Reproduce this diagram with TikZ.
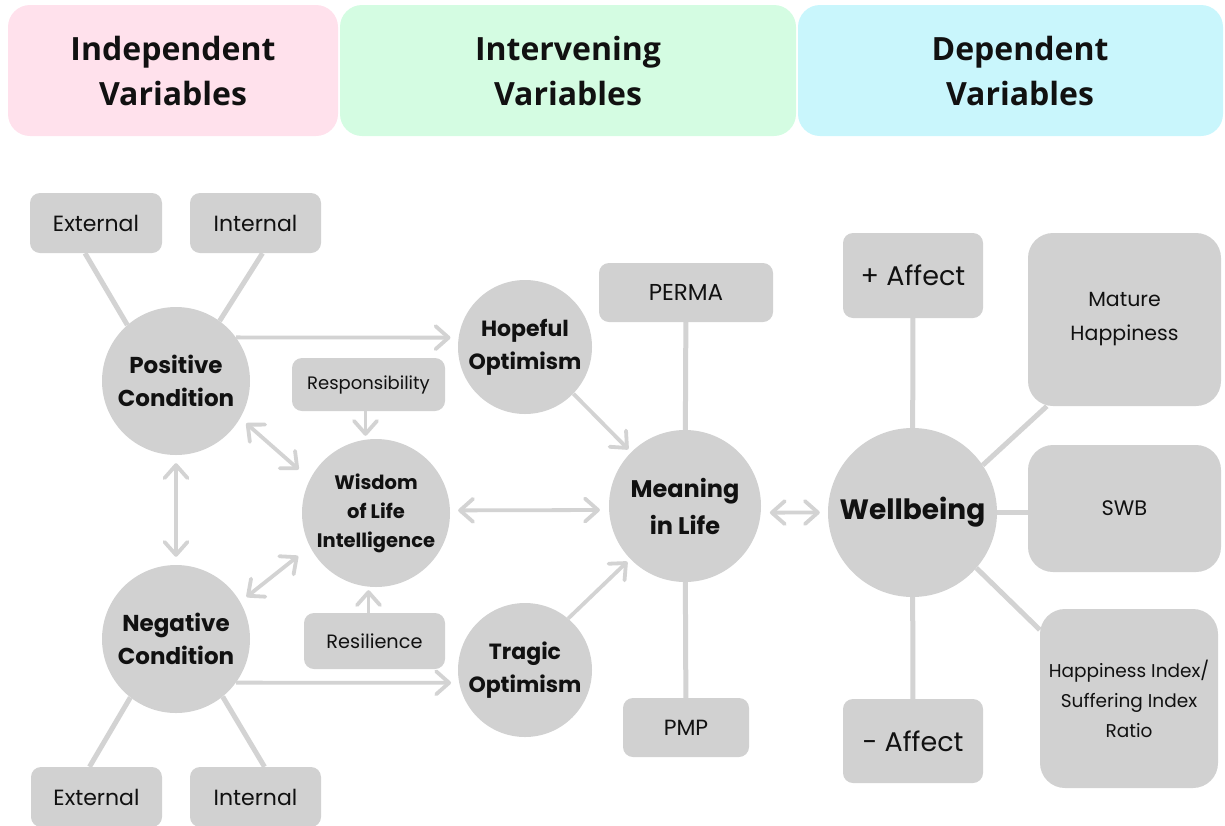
\documentclass[tikz,border=0pt]{standalone}
\usepackage{fontspec}
\newfontfamily\popfont{Poppins}
\newfontfamily\osfont{Open Sans}
\usetikzlibrary{arrows.meta,backgrounds}
\definecolor{nodegray}{HTML}{D1D1D1}
\definecolor{linegray}{HTML}{D3D3D3}
\definecolor{hpink}{HTML}{FFE1EC}
\definecolor{hgreen}{HTML}{D4FCE2}
\definecolor{hcyan}{HTML}{C9F6FC}
\definecolor{txt}{HTML}{111111}
\newcommand{\fs}[2]{\fontsize{#1}{#2}\selectfont}
\begin{document}
\begin{tikzpicture}[x=1pt,y=-1pt,
 hdr/.style={rounded corners=22pt, inner sep=0, minimum height=131pt, text=txt, font=\osfont\bfseries\fs{32}{45}, align=center},
 hdrtext/.style={inner sep=0, text=txt, font=\osfont\bfseries\fs{32}{45}, align=center},
 circ/.style={circle, fill=nodegray, inner sep=0, text=txt, align=center, font=\popfont\bfseries\fs{23}{33}},
 box/.style={rectangle, rounded corners=10pt, fill=nodegray, inner sep=0, text=txt, align=center, font=\popfont\fs{22}{30}},
 ln/.style={draw=linegray, line width=5pt},
 tipb/.tip={Straight Barb[length=13pt,width=23pt,round]},
 arr/.style={draw=linegray, line width=3.8pt, -tipb},
 darr/.style={draw=linegray, line width=3.8pt, tipb-tipb}
]
\useasboundingbox (0,0) rectangle (1225,825);

% headers
\node[hdr, fill=hpink, minimum width=330pt] (H1) at (173,70.5) {Independent\\Variables};
\node[hdr, fill=hgreen, minimum width=456pt] (H2) at (568,70.5) {Intervening\\Variables};
\node[hdr, fill=hcyan, minimum width=425pt] (H3) at (1010.5,70.5) {};
\node[hdrtext] (H3t) at (1020,70.5) {Dependent\\Variables};

% left boxes
\node[box, minimum width=132pt, minimum height=60pt] (ExtT) at (96,223) {External};
\node[box, minimum width=131pt, minimum height=60pt] (IntT) at (255.5,223) {Internal};
\node[box, minimum width=131pt, minimum height=60pt] (ExtB) at (96.5,797) {External};
\node[box, minimum width=131pt, minimum height=60pt] (IntB) at (255.5,797) {Internal};

% circles
\node[circ, minimum size=148pt] (PC) at (176,381) {Positive\\Condition};
\node[circ, minimum size=148pt] (NC) at (176,639) {Negative\\Condition};
\node[circ, minimum size=148pt, font=\popfont\bfseries\fs{19.5}{29}] (WL) at (376,513) {Wisdom\\of Life\\Intelligence};
\node[circ, minimum size=134pt, font=\popfont\bfseries\fs{22}{33}] (HO) at (525,347) {Hopeful\\Optimism};
\node[circ, minimum size=134pt, font=\popfont\bfseries\fs{22}{33}] (TO) at (525,670) {Tragic\\Optimism};
\node[circ, minimum size=152pt, font=\popfont\bfseries\fs{24}{37}] (ML) at (685,506) {Meaning\\in Life};
\node[circ, minimum size=169pt, font=\popfont\bfseries\fs{28}{34}] (WB) at (912.5,512.5) {Wellbeing};

% middle boxes
\node[box, minimum width=153pt, minimum height=53pt, font=\popfont\fs{18}{24}] (Resp) at (368.5,384.5) {Responsibility};
\node[box, minimum width=141pt, minimum height=56pt, font=\popfont\fs{19.3}{24}] (Res) at (374.5,641) {Resilience};
\node[box, minimum width=174pt, minimum height=59pt, font=\popfont\fs{23}{28}] (PERMA) at (686,292.5) {PERMA};
\node[box, minimum width=126pt, minimum height=59pt, font=\popfont\fs{22}{28}] (PMP) at (686,727.5) {PMP};

% right boxes
\node[box, minimum width=140pt, minimum height=85pt, font=\popfont\fs{27}{32}] (PA) at (913,275.5) {+ Affect};
\node[box, minimum width=140pt, minimum height=84pt, font=\popfont\fs{27}{32}] (MA) at (913,741) {- Affect};
\node[box, rounded corners=25pt, minimum width=193pt, minimum height=173pt, font=\popfont\fs{20.5}{34}] (Mat) at (1124.5,319.5) {Mature\\Happiness};
\node[box, rounded corners=25pt, minimum width=193pt, minimum height=127pt, font=\popfont\fs{21}{28}] (SWB) at (1124.5,508.5) {SWB};
\node[box, rounded corners=25pt, minimum width=178pt, minimum height=179pt, font=\popfont\fs{18.5}{30}] (HI) at (1129,698.5) {Happiness Index/\\Suffering Index\\Ratio};

\coordinate (RespOut) at ([xshift=-3pt]Resp.south);
\coordinate (ResIn) at ([xshift=-6pt]Res.north);

% plain connectors behind nodes
\begin{scope}[on background layer]
\draw[ln] ([xshift=-11pt]ExtT.south) -- (PC.131);
\draw[ln] ([xshift=7pt]IntT.south) -- (PC.54);
\draw[ln] ([xshift=-7pt]ExtB.north) -- (NC.232);
\draw[ln] ([xshift=9pt]IntB.north) -- (NC.309);
\draw[ln] (PERMA) -- (ML);
\draw[ln] (ML) -- (PMP);
\draw[ln] (PA) -- (WB);
\draw[ln] (WB) -- (MA);
\draw[ln] (WB.34) -- ([xshift=19pt]Mat.south west);
\draw[ln] (WB.east) -- (WB.east -| SWB.west);
\draw[ln] (WB.-41) -- ([yshift=-21pt]HI.north west);
\end{scope}

% arrows
\draw[arr, shorten >=8pt] (PC.36) -- (HO.172);
\draw[arr, shorten >=8pt] (NC.-36) -- (TO.191);
\draw[darr, shorten <=8pt, shorten >=8pt] (PC) -- (NC);
\draw[darr, shorten <=8pt, shorten >=15pt] (PC.-30) -- (WL.153);
\draw[darr, shorten <=8pt, shorten >=15pt] (NC.30) -- (WL.207);
\draw[arr, shorten >=3pt] (RespOut) -- (RespOut |- WL.north);
\draw[arr, shorten >=3pt] (ResIn) -- (ResIn |- WL.south);
\draw[darr, shorten <=8pt, shorten >=9pt] (WL.2) -- (ML.183);
\draw[arr, shorten >=4pt] (HO.-44) -- (ML.135);
\draw[arr, shorten >=4pt] (TO.50) -- (ML.224);
\draw[darr, shorten <=9pt, shorten >=8pt] (ML.-5) -- (WB.180);
\end{tikzpicture}
\end{document}
